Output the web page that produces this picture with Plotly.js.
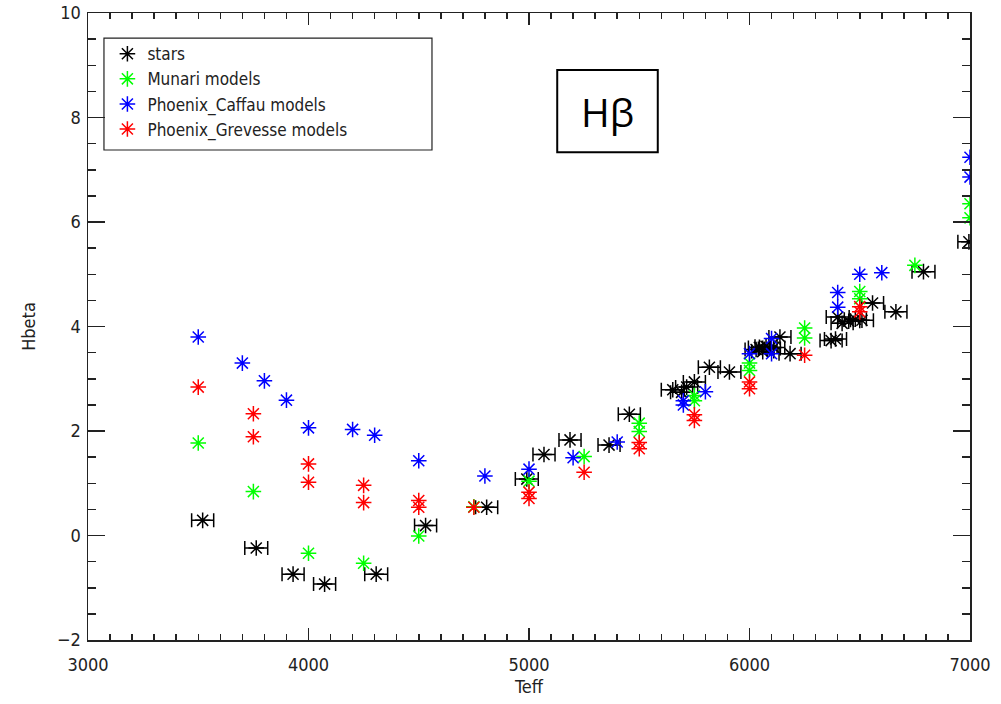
<!DOCTYPE html>
<html>
<head>
<meta charset="utf-8">
<script src="https://cdn.plot.ly/plotly-3.0.1.min.js"></script>
<style>html,body{margin:0;padding:0;background:#fff;}#chart{width:1001px;height:704px;}</style>
</head>
<body>
<div id="chart"></div>
<script>
// ---- data ----
const starsTeff  = [3520, 3763, 3930, 4073, 4307, 4531, 4808, 4990, 5068, 5186, 5363, 5455, 5652, 5692, 5715, 5750, 5818, 5909, 6030, 6045, 6060, 6075, 6090, 6110, 6138, 6184, 6370, 6390, 6400, 6420, 6450, 6480, 6510, 6558, 6664, 6789, 6995];
const starsHbeta = [0.29, -0.24, -0.74, -0.93, -0.74, 0.19, 0.54, 1.08, 1.55, 1.83, 1.73, 2.32, 2.79, 2.74, 2.84, 2.94, 3.22, 3.13, 3.56, 3.60, 3.52, 3.62, 3.58, 3.60, 3.80, 3.48, 3.73, 3.76, 4.18, 4.06, 4.10, 4.14, 4.12, 4.45, 4.28, 5.05, 5.62];
const starsTeffErr = [50, 52, 50, 50, 52, 50, 50, 52, 50, 50, 50, 50, 52, 50, 50, 50, 50, 52, 50, 50, 50, 50, 50, 50, 50, 50, 50, 50, 52, 50, 50, 50, 52, 50, 50, 52, 50];

const munariTeff  = [3500, 3750, 4000, 4250, 4500, 4750, 5000, 5250, 5500, 5500, 5750, 5750, 6000, 6000, 6250, 6250, 6500, 6500, 6750, 7000, 7000];
const munariHbeta = [1.77, 0.84, -0.34, -0.53, -0.01, 0.55, 1.04, 1.51, 2.15, 1.99, 2.68, 2.58, 3.30, 3.16, 3.97, 3.78, 4.67, 4.53, 5.17, 6.35, 6.08];

const caffauTeff  = [3500, 3700, 3800, 3900, 4000, 4200, 4300, 4500, 4800, 5000, 5200, 5400, 5700, 5700, 5800, 6000, 6100, 6100, 6400, 6400, 6500, 6600, 7000, 7000];
const caffauHbeta = [3.80, 3.30, 2.96, 2.59, 2.06, 2.03, 1.92, 1.43, 1.14, 1.27, 1.49, 1.79, 2.58, 2.50, 2.75, 3.48, 3.77, 3.48, 4.65, 4.37, 5.00, 5.03, 7.24, 6.86];

const grevesseTeff  = [3500, 3750, 3750, 4000, 4000, 4250, 4250, 4500, 4500, 4750, 5000, 5000, 5250, 5500, 5500, 5750, 5750, 6000, 6000, 6250, 6500, 6500];
const grevesseHbeta = [2.84, 2.33, 1.89, 1.37, 1.02, 0.96, 0.63, 0.67, 0.54, 0.54, 0.83, 0.71, 1.21, 1.78, 1.66, 2.31, 2.20, 2.94, 2.81, 3.45, 4.38, 4.28];

const seriesNames = ['stars', 'Munari models', 'Phoenix_Caffau models', 'Phoenix_Grevesse models'];
const xTicks = [3000, 4000, 5000, 6000, 7000];
const yTicks = [-2, 0, 2, 4, 6, 8, 10];
const panelLabel = 'Hβ';
// ---------------------------------------

const FONT = 'Liberation Sans Narrow, DejaVu Sans Condensed, DejaVu Sans, sans-serif';
function mk(color){
  return {symbol:'asterisk-open', size:13, color:color, line:{color:color, width:1.5}};
}
const traces = [
  {x:starsTeff, y:starsHbeta, name:seriesNames[0], type:'scatter', mode:'markers', marker:mk('#000000'),
   error_x:{type:'data', array:starsTeffErr, visible:true, color:'#000000', thickness:1.5, width:7}, cliponaxis:true},
  {x:munariTeff, y:munariHbeta, name:seriesNames[1], type:'scatter', mode:'markers', marker:mk('#00ff00'), cliponaxis:true},
  {x:caffauTeff, y:caffauHbeta, name:seriesNames[2], type:'scatter', mode:'markers', marker:mk('#0000ff'), cliponaxis:true},
  {x:grevesseTeff, y:grevesseHbeta, name:seriesNames[3], type:'scatter', mode:'markers', marker:mk('#ff0000'), cliponaxis:true}
];

const layout = {
  width:1001, height:704,
  margin:{l:88, r:31, t:13, b:64},
  paper_bgcolor:'#ffffff', plot_bgcolor:'#ffffff',
  font:{family:FONT, size:18, color:'#222'},
  showlegend:true,
  legend:{x:0.022, y:0.963, xanchor:'left', yanchor:'top', bgcolor:'rgba(0,0,0,0)', borderwidth:0,
          font:{family:FONT, size:17, color:'#222'}, itemwidth:30},
  xaxis:{range:[3000,7000], tickvals:xTicks, ticktext:xTicks.map(String), ticks:'inside', ticklen:12, tickwidth:1.5, tickcolor:'#222',
         ticklabelstandoff:8,
         minor:{dtick:100, ticks:'inside', ticklen:6, tickwidth:1.5, tickcolor:'#222'},
         showline:true, linecolor:'#222', linewidth:1.5, mirror:'allticks', showgrid:false, zeroline:false,
         title:{text:'Teff', font:{family:FONT, size:18, color:'#222'}, standoff:6}},
  yaxis:{range:[-2,10], tickvals:yTicks, ticktext:yTicks.map(v=>v<0?'−'+Math.abs(v):String(v)), ticks:'inside', ticklen:17, tickwidth:1.5, tickcolor:'#222',
         ticklabelstandoff:2,
         minor:{dtick:0.5, ticks:'inside', ticklen:8, tickwidth:1.5, tickcolor:'#222'},
         showline:true, linecolor:'#222', linewidth:1.5, mirror:'allticks', showgrid:false, zeroline:false,
         title:{text:'Hbeta', font:{family:FONT, size:18, color:'#222'}, standoff:16}},
  shapes:[
    {type:'rect', xref:'paper', yref:'paper', x0:0.0181, x1:0.390, y0:0.7815, y1:0.960, line:{color:'#222', width:1.2}, layer:'below'},
    {type:'rect', xref:'paper', yref:'paper', x0:0.532, x1:0.646, y0:0.778, y1:0.909, line:{color:'#000', width:2}, layer:'above'}
  ],
  annotations:[
    {text:panelLabel, xref:'paper', yref:'paper', x:0.589, y:0.8435, xanchor:'center', yanchor:'middle', showarrow:false,
     font:{family:'Open Sans, Noto Sans, sans-serif', size:39, color:'#000'}}
  ]
};

Plotly.newPlot('chart', traces, layout, {displayModeBar:false, staticPlot:true});
</script>
</body>
</html>
